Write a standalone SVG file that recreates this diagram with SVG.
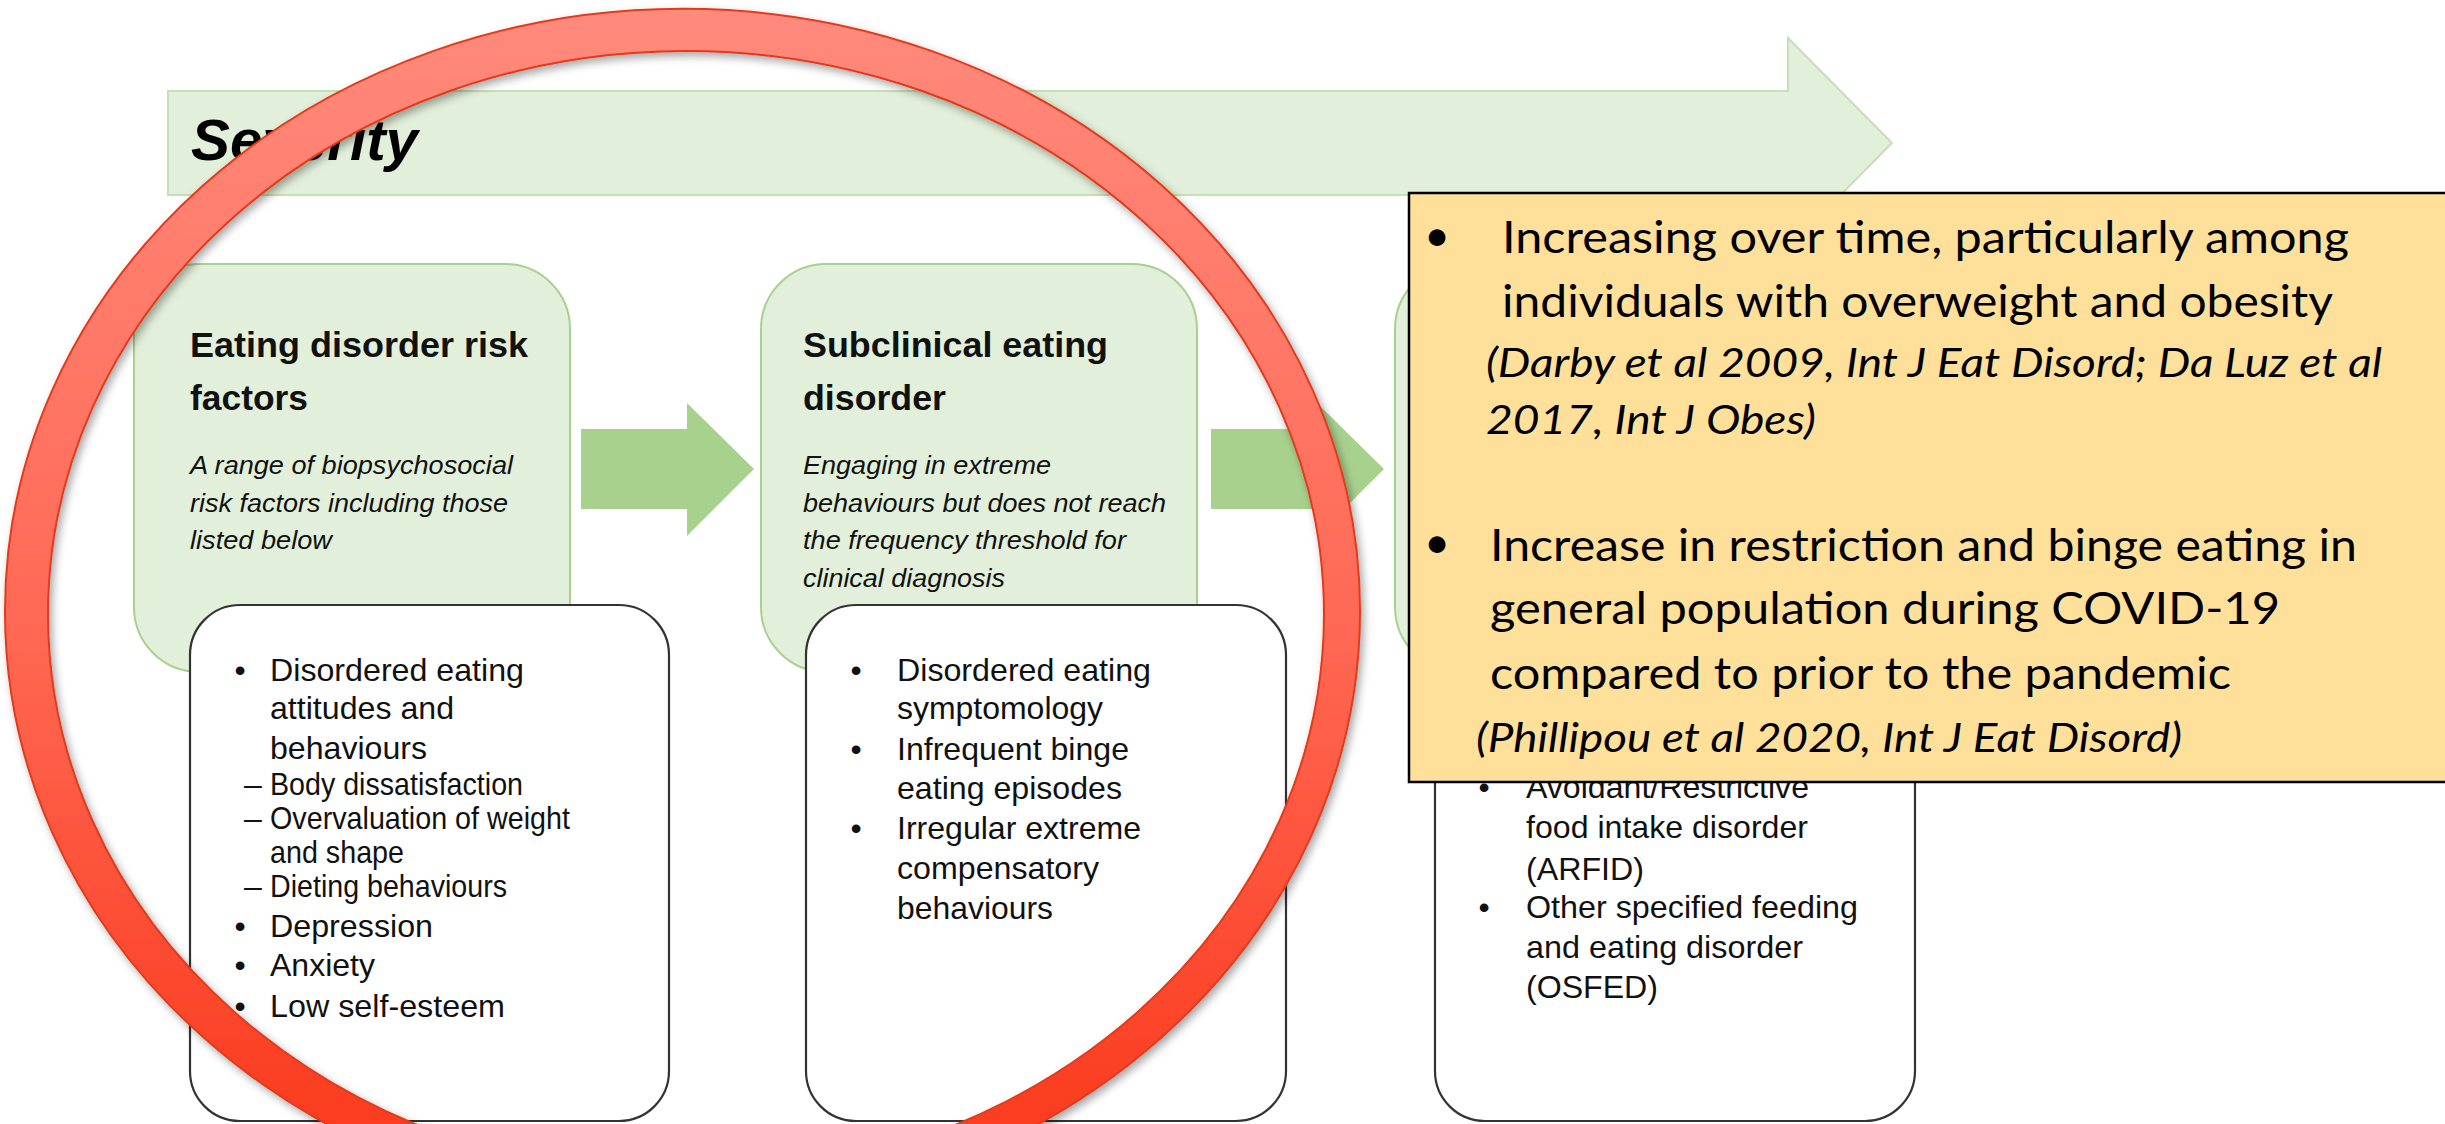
<svg xmlns="http://www.w3.org/2000/svg" width="2445" height="1124" viewBox="0 0 2445 1124">
  <defs>
    <style>
      .stage { fill: #E2EFDA; stroke: #A9D18E; stroke-width: 2; }
      .list { fill: #FFFFFF; stroke: #333333; stroke-width: 2.2; }
      .flow { fill: #A9D18E; }
      .title { font-family: "Liberation Sans", Arial, sans-serif; font-weight: bold; font-size: 35px; fill: #111; }
      .desc { font-family: "Liberation Sans", Arial, sans-serif; font-style: italic; font-size: 26px; fill: #111; }
      .item { font-family: "Liberation Sans", Arial, sans-serif; font-size: 32px; fill: #111; }
      .note { font-family: Lato, "Open Sans", sans-serif; font-size: 45px; fill: #000; }
      .cite { font-family: Lato, "Open Sans", sans-serif; font-style: italic; font-size: 41px; fill: #000; }
    </style>
    <linearGradient id="ringFill" gradientUnits="userSpaceOnUse" x1="0" y1="9" x2="0" y2="1214">
      <stop offset="0" stop-color="#FF8A7C"/>
      <stop offset="0.5" stop-color="#FF6A56"/>
      <stop offset="1" stop-color="#FA3416"/>
    </linearGradient>
    <filter id="ringShadow" x="-5%" y="-5%" width="110%" height="110%">
      <feDropShadow dx="3" dy="4" stdDeviation="4" flood-color="#000" flood-opacity="0.35"/>
    </filter>
  </defs>

  <rect width="2445" height="1124" fill="#FFFFFF"/>

  <!-- severity banner arrow -->
  <g id="severity">
    <path d="M168,91 H1788 V38 L1892,143 L1788,248 V195 H168 Z" fill="#E2EFDA" stroke="#C5E0B4" stroke-width="2"/>
    <text x="191" y="160" font-family="'Liberation Sans', Arial, sans-serif" font-weight="bold" font-style="italic" font-size="57" fill="#000" textLength="227" lengthAdjust="spacingAndGlyphs">Severity</text>
  </g>

  <!-- stage cards -->
  <g id="stage-risk">
    <rect class="stage" x="134" y="264" width="436" height="408" rx="65" ry="65"/>
    <text class="title" x="190" y="357" textLength="338" lengthAdjust="spacingAndGlyphs">Eating disorder risk</text>
    <text class="title" x="190" y="410" textLength="118" lengthAdjust="spacingAndGlyphs">factors</text>
    <text class="desc" x="190" y="474" textLength="323" lengthAdjust="spacingAndGlyphs">A range of biopsychosocial</text>
    <text class="desc" x="190" y="512" textLength="318" lengthAdjust="spacingAndGlyphs">risk factors including those</text>
    <text class="desc" x="190" y="549" textLength="142" lengthAdjust="spacingAndGlyphs">listed below</text>
  </g>

  <g id="stage-subclinical">
    <rect class="stage" x="761" y="264" width="436" height="408" rx="65" ry="65"/>
    <text class="title" x="803" y="357" textLength="305" lengthAdjust="spacingAndGlyphs">Subclinical eating</text>
    <text class="title" x="803" y="410" textLength="143" lengthAdjust="spacingAndGlyphs">disorder</text>
    <text class="desc" x="803" y="474" textLength="248" lengthAdjust="spacingAndGlyphs">Engaging in extreme</text>
    <text class="desc" x="803" y="512" textLength="363" lengthAdjust="spacingAndGlyphs">behaviours but does not reach</text>
    <text class="desc" x="803" y="549" textLength="323" lengthAdjust="spacingAndGlyphs">the frequency threshold for</text>
    <text class="desc" x="803" y="587" textLength="202" lengthAdjust="spacingAndGlyphs">clinical diagnosis</text>
  </g>

  <g id="stage-clinical">
    <rect class="stage" x="1395" y="264" width="436" height="408" rx="65" ry="65"/>
  </g>

  <!-- block arrows between stages -->
  <g id="connectors">
    <path class="flow" d="M581,429 H687 V403 L754,469 L687,536 V509 H581 Z"/>
    <path class="flow" d="M1211,429 H1317 V403 L1384,469 L1317,536 V509 H1211 Z"/>
  </g>

  <!-- example lists -->
  <g id="list-risk">
    <rect class="list" x="190" y="605" width="479" height="516" rx="50" ry="50"/>
    <text class="item" x="240" y="681" text-anchor="middle">•</text>
    <text class="item" x="270" y="681" textLength="254" lengthAdjust="spacingAndGlyphs">Disordered eating</text>
    <text class="item" x="270" y="719" textLength="184" lengthAdjust="spacingAndGlyphs">attitudes and</text>
    <text class="item" x="270" y="759" textLength="157" lengthAdjust="spacingAndGlyphs">behaviours</text>
    <text class="item" x="244" y="795">–</text>
    <text class="item" x="270" y="795" textLength="253" lengthAdjust="spacingAndGlyphs">Body dissatisfaction</text>
    <text class="item" x="244" y="829">–</text>
    <text class="item" x="270" y="829" textLength="300" lengthAdjust="spacingAndGlyphs">Overvaluation of weight</text>
    <text class="item" x="270" y="863" textLength="134" lengthAdjust="spacingAndGlyphs">and shape</text>
    <text class="item" x="244" y="897">–</text>
    <text class="item" x="270" y="897" textLength="237" lengthAdjust="spacingAndGlyphs">Dieting behaviours</text>
    <text class="item" x="240" y="937" text-anchor="middle">•</text>
    <text class="item" x="270" y="937" textLength="163" lengthAdjust="spacingAndGlyphs">Depression</text>
    <text class="item" x="240" y="976" text-anchor="middle">•</text>
    <text class="item" x="270" y="976" textLength="105" lengthAdjust="spacingAndGlyphs">Anxiety</text>
    <text class="item" x="240" y="1017" text-anchor="middle">•</text>
    <text class="item" x="270" y="1017" textLength="235" lengthAdjust="spacingAndGlyphs">Low self-esteem</text>
  </g>

  <g id="list-subclinical">
    <rect class="list" x="806" y="605" width="480" height="516" rx="50" ry="50"/>
    <text class="item" x="856" y="681" text-anchor="middle">•</text>
    <text class="item" x="897" y="681" textLength="254" lengthAdjust="spacingAndGlyphs">Disordered eating</text>
    <text class="item" x="897" y="719" textLength="206" lengthAdjust="spacingAndGlyphs">symptomology</text>
    <text class="item" x="856" y="760" text-anchor="middle">•</text>
    <text class="item" x="897" y="760" textLength="232" lengthAdjust="spacingAndGlyphs">Infrequent binge</text>
    <text class="item" x="897" y="799" textLength="225" lengthAdjust="spacingAndGlyphs">eating episodes</text>
    <text class="item" x="856" y="839" text-anchor="middle">•</text>
    <text class="item" x="897" y="839" textLength="244" lengthAdjust="spacingAndGlyphs">Irregular extreme</text>
    <text class="item" x="897" y="879" textLength="202" lengthAdjust="spacingAndGlyphs">compensatory</text>
    <text class="item" x="897" y="919" textLength="156" lengthAdjust="spacingAndGlyphs">behaviours</text>
  </g>

  <g id="list-clinical">
    <rect class="list" x="1435" y="605" width="480" height="516" rx="50" ry="50"/>
    <text class="item" x="1484" y="798" text-anchor="middle">•</text>
    <text class="item" x="1526" y="798" textLength="283" lengthAdjust="spacingAndGlyphs">Avoidant/Restrictive</text>
    <text class="item" x="1526" y="838" textLength="282" lengthAdjust="spacingAndGlyphs">food intake disorder</text>
    <text class="item" x="1526" y="880" textLength="118" lengthAdjust="spacingAndGlyphs">(ARFID)</text>
    <text class="item" x="1484" y="918" text-anchor="middle">•</text>
    <text class="item" x="1526" y="918" textLength="332" lengthAdjust="spacingAndGlyphs">Other specified feeding</text>
    <text class="item" x="1526" y="958" textLength="277" lengthAdjust="spacingAndGlyphs">and eating disorder</text>
    <text class="item" x="1526" y="998" textLength="132" lengthAdjust="spacingAndGlyphs">(OSFED)</text>
  </g>

  <!-- red highlight ring -->
  <g id="highlight-ring" filter="url(#ringShadow)">
    <path fill="url(#ringFill)" fill-rule="evenodd" stroke="#E23A1C" stroke-width="2"
          d="M5,611.3 A677.5,602.3 0 1 0 1360,611.3 A677.5,602.3 0 1 0 5,611.3 Z
             M48,614.2 A638,563.2 0 1 0 1324,614.2 A638,563.2 0 1 0 48,614.2 Z"/>
  </g>

  <!-- evidence callout -->
  <g id="callout">
    <rect x="1409" y="193" width="1060" height="589" fill="#FFE09A" stroke="#000" stroke-width="2.5"/>
    <text class="note" x="1437" y="251" text-anchor="middle">•</text>
    <text class="note" x="1502" y="253" textLength="847" lengthAdjust="spacingAndGlyphs">Increasing over time, particularly among</text>
    <text class="note" x="1502" y="317" textLength="831" lengthAdjust="spacingAndGlyphs">individuals with overweight and obesity</text>
    <text class="cite" x="1486" y="377" textLength="896" lengthAdjust="spacingAndGlyphs">(Darby et al 2009, Int J Eat Disord; Da Luz et al</text>
    <text class="cite" x="1486" y="434" textLength="330" lengthAdjust="spacingAndGlyphs">2017, Int J Obes)</text>
    <text class="note" x="1437" y="558" text-anchor="middle">•</text>
    <text class="note" x="1490" y="561" textLength="867" lengthAdjust="spacingAndGlyphs">Increase in restriction and binge eating in</text>
    <text class="note" x="1490" y="624" textLength="790" lengthAdjust="spacingAndGlyphs">general population during COVID-19</text>
    <text class="note" x="1490" y="689" textLength="741" lengthAdjust="spacingAndGlyphs">compared to prior to the pandemic</text>
    <text class="cite" x="1476" y="752" textLength="706" lengthAdjust="spacingAndGlyphs">(Phillipou et al 2020, Int J Eat Disord)</text>
  </g>
</svg>
